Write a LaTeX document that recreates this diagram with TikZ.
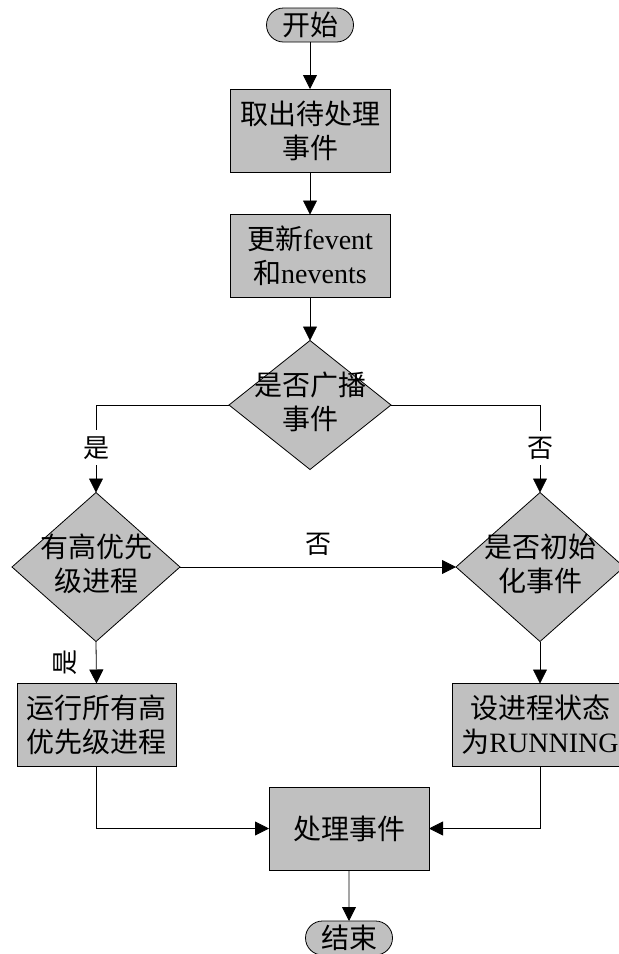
\documentclass[tikz,border=0pt]{standalone}
\usepackage{fontspec}
\setmainfont{Liberation Serif}
\newfontfamily\cjk{Noto Sans CJK SC}
\usetikzlibrary{shapes.geometric,shapes.misc,arrows.meta}
\definecolor{boxgray}{RGB}{192,192,192}
% two centred lines of text that take no room of their own,
% so the diamond keeps the size given by its minimum width/height
\newcommand\twolines[2]{\smash{\makebox[0pt]{\raisebox{-0.25em}{\begin{tabular}{@{}c@{}}#1\\#2\end{tabular}}}}}
\begin{document}
\begin{tikzpicture}[x=1pt,y=-1pt,
  every node/.style={inner sep=0pt, outer sep=0pt},
  txt/.style={font=\cjk\fontsize{28}{34}\selectfont},
  terminal/.style={txt, rounded rectangle, draw=black, fill=boxgray,
    minimum width=87pt, minimum height=34pt, line width=0.8pt},
  process/.style={txt, rectangle, draw=black, fill=boxgray, line width=0.8pt,
    minimum width=160pt, minimum height=83pt, align=center},
  decision/.style={txt, diamond, draw=black, fill=boxgray, line width=0.8pt,
    minimum width=168pt, minimum height=149pt},
  flow/.style={draw=black, line width=0.8pt, -{Triangle[length=14pt,width=14pt]}},
  branch/.style={font=\cjk\fontsize{26}{30}\selectfont, fill=white, inner xsep=4pt, inner ysep=6pt},
  answer/.style={font=\cjk\fontsize{26}{30}\selectfont, inner sep=0pt},
]
\useasboundingbox (0,0) rectangle (619,954);

% main column
\node[terminal] (start) at (310,25) {开始};
\node[process] (fetch) at (310,130.5) {取出待处理\\事件};
\node[process] (update) at (310,256) {更新{\rmfamily fevent}\\和{\rmfamily nevents}};
\node[decision, minimum width=162pt, minimum height=129pt] (bcast) at (310,405)
  {\twolines{是否广播}{事件}};

% left branch
\node[decision] (prio) at (96,567) {\twolines{有高优先}{级进程}};
\node[process, minimum width=159pt] (runall) at (96.5,725) {运行所有高\\优先级进程};

% right branch
\node[decision] (init) at (540,567) {\twolines{是否初始}{化事件}};
\node[process, minimum width=176pt] (setrun) at (540,725) {设进程状态\\为{\rmfamily RUNNING}};

% join
\node[process] (handle) at (349,828.5) {处理事件};
\node[terminal] (stop) at (349,938) {结束};

% connectors
\draw[flow] (start) -- (fetch);
\draw[flow] (fetch) -- (update);
\draw[flow] (update) -- (bcast);
\draw[flow] (bcast.west) -| (prio.north) node[branch, pos=0.745] (yesb) {是};
\draw[flow] (bcast.east) -| (init.north) node[branch, pos=0.745] (nob) {否};
\draw[flow] (prio.east) -- (init.west) node[answer, pos=0.5, above=11pt] (nop) {否};
\draw[flow] (prio.south) -- (runall.north);
\node[answer, rotate=90] (yesp) at (65,662) {是};
\draw[flow] (init.south) -- (setrun.north);
\draw[flow] (runall.south) |- (handle.west);
\draw[flow] (setrun.south) |- (handle.east);
\draw[flow] (handle) -- (stop);
\end{tikzpicture}
\end{document}
